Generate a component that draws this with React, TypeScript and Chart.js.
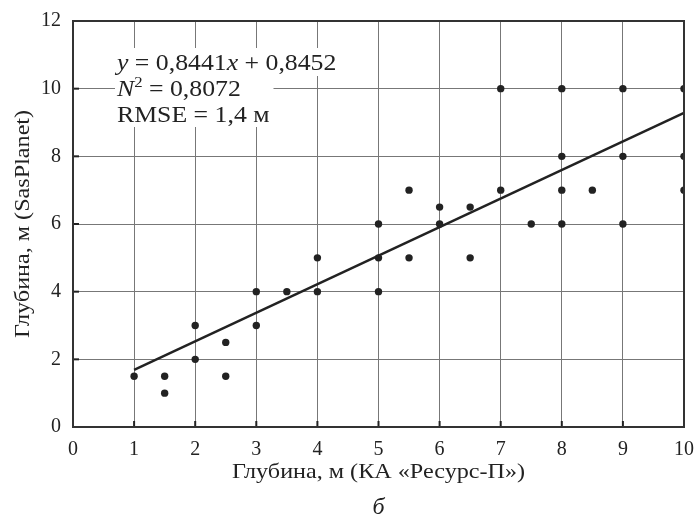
import React, { useEffect, useRef } from "react";
import { Chart, registerables } from "chart.js";

Chart.register(...registerables);

// Measured depths: x = КА «Ресурс-П», y = SasPlanet
const xDepth = [1, 1.5, 1.5, 2, 2, 2.5, 2.5, 3, 3, 3.5, 4, 4, 5, 5, 5, 5.5, 5.5, 6, 6, 6.5, 6.5, 7, 7, 7.5, 8, 8, 8, 8, 8.5, 9, 9, 9, 10, 10, 10];
const yDepth = [1.5, 1.5, 1, 3, 2, 2.5, 1.5, 4, 3, 4, 5, 4, 6, 5, 4, 7, 5, 6.5, 6, 6.5, 5, 10, 7, 6, 10, 8, 7, 6, 7, 10, 8, 6, 10, 8, 7];

const slope = 0.8441;
const intercept = 0.8452;
const fitRange = [1, 10];

const xTitle = "Глубина, м (КА «Ресурс-П»)";
const yTitle = "Глубина, м (SasPlanet)";
const panelLabel = "б";
const eqLines = [
  [{ t: "y", i: true }, { t: " = 0,8441" }, { t: "x", i: true }, { t: " + 0,8452" }],
  [{ t: "N", i: true }, { t: "2", sup: true }, { t: " = 0,8072" }],
  [{ t: "RMSE = 1,4 м" }],
];

const SERIF = "'Liberation Serif', 'DejaVu Serif', serif";
const INK = "#222";
const STRETCH = 1.15;
const EQ_STRETCH = 1.12;

function richWidth(ctx: CanvasRenderingContext2D, segs: any[], size: number) {
  let w = 0;
  for (const s of segs) {
    const sz = s.sup ? size * 0.65 : size;
    ctx.font = `${s.i ? "italic " : ""}${sz}px ${SERIF}`;
    w += ctx.measureText(s.t).width;
  }
  return w;
}

function drawRich(ctx: CanvasRenderingContext2D, segs: any[], x: number, y: number, size: number) {
  ctx.save();
  ctx.translate(x, y);
  ctx.scale(EQ_STRETCH, 1);
  let cx = 0;
  ctx.textBaseline = "alphabetic";
  ctx.textAlign = "left";
  ctx.fillStyle = INK;
  for (const s of segs) {
    const sz = s.sup ? size * 0.65 : size;
    ctx.font = `${s.i ? "italic " : ""}${sz}px ${SERIF}`;
    ctx.fillText(s.t, cx, s.sup ? -size * 0.38 : 0);
    cx += ctx.measureText(s.t).width;
  }
  ctx.restore();
}

const decorPlugin = {
  id: "decor",
  beforeDatasetsDraw(chart: any) {
    const { ctx, chartArea: a, scales } = chart;
    ctx.save();
    // inward ticks
    ctx.strokeStyle = INK;
    ctx.lineWidth = 2;
    for (let v = 1; v < 10; v++) {
      const px = scales.x.getPixelForValue(v);
      ctx.beginPath();
      ctx.moveTo(px, a.bottom);
      ctx.lineTo(px, a.bottom - 6);
      ctx.stroke();
    }
    for (let v = 2; v < 12; v += 2) {
      const py = scales.y.getPixelForValue(v);
      ctx.beginPath();
      ctx.moveTo(a.left, py);
      ctx.lineTo(a.left + 6, py);
      ctx.stroke();
    }
    // white boxes behind annotation
    const size = 23;
    const x0 = a.left + 44;
    const base = [70, 96, 122];
    ctx.fillStyle = "#fff";
    const w1 = richWidth(ctx, eqLines[0], size) * EQ_STRETCH;
    const w23 = Math.max(richWidth(ctx, eqLines[1], size), richWidth(ctx, eqLines[2], size)) * EQ_STRETCH;
    ctx.fillRect(x0 - 2, base[0] - 22, w1 + 6, 28);
    ctx.fillRect(x0 - 2, base[0] + 6, w23 + 6, 51);
    for (let i = 0; i < eqLines.length; i++) drawRich(ctx, eqLines[i], x0, base[i], size);
    ctx.restore();
  },
  afterDraw(chart: any) {
    const { ctx, chartArea: a } = chart;
    ctx.save();
    ctx.strokeStyle = "#333";
    ctx.lineWidth = 2;
    ctx.strokeRect(a.left, a.top, a.right - a.left, a.bottom - a.top);
    // axis titles
    ctx.fillStyle = INK;
    ctx.textAlign = "center";
    ctx.textBaseline = "middle";
    ctx.font = `21px ${SERIF}`;
    const cx = (a.left + a.right) / 2;
    ctx.save();
    ctx.translate(cx, 472);
    ctx.scale(STRETCH, 1);
    ctx.fillText(xTitle, 0, 0);
    ctx.restore();
    ctx.save();
    ctx.translate(23, (a.top + a.bottom) / 2);
    ctx.rotate(-Math.PI / 2);
    ctx.scale(STRETCH, 1);
    ctx.fillText(yTitle, 0, 0);
    ctx.restore();
    ctx.font = `italic 24px ${SERIF}`;
    ctx.fillText(panelLabel, cx, 508);
    ctx.restore();
  },
};

export default function App() {
  const ref = useRef<HTMLCanvasElement>(null);
  useEffect(() => {
    document.body.style.margin = "0";
    const pts = xDepth.map((x, i) => ({ x, y: yDepth[i] }));
    const fit = fitRange.map((x) => ({ x, y: slope * x + intercept }));
    const chart = new Chart(ref.current!, {
      type: "scatter",
      data: {
        datasets: [
          {
            type: "line",
            data: fit,
            borderColor: INK,
            borderWidth: 2.5,
            pointRadius: 0,
            fill: false,
          } as any,
          {
            data: pts,
            backgroundColor: INK,
            borderColor: INK,
            pointRadius: 3.7,
            borderWidth: 0,
          },
        ],
      },
      options: {
        responsive: false,
        animation: false,
        devicePixelRatio: 1,
        layout: { padding: { top: 21, right: 13, left: 0, bottom: 0 } },
        plugins: { legend: { display: false }, tooltip: { enabled: false } },
        scales: {
          x: {
            type: "linear",
            min: 0,
            max: 10,
            afterFit: (s: any) => { s.height = 95; s.paddingRight = 0; s.paddingLeft = 0; },
            ticks: { stepSize: 1, color: INK, font: { family: SERIF, size: 20 }, padding: 11, maxRotation: 0 },
            grid: { color: "#777", lineWidth: 1, drawTicks: false },
            border: { display: false },
          },
          y: {
            type: "linear",
            min: 0,
            max: 12,
            afterFit: (s: any) => { s.width = 73; s.paddingTop = 0; s.paddingBottom = 0; },
            ticks: { stepSize: 2, color: INK, font: { family: SERIF, size: 20 }, padding: 12 },
            grid: { color: "#777", lineWidth: 1, drawTicks: false },
            border: { display: false },
          },
        },
      } as any,
      plugins: [decorPlugin],
    });
    return () => chart.destroy();
  }, []);
  return (
    <div style={{ width: 697, height: 522, background: "#fff" }}>
      <canvas ref={ref} width={697} height={522} style={{ display: "block" }} />
    </div>
  );
}
